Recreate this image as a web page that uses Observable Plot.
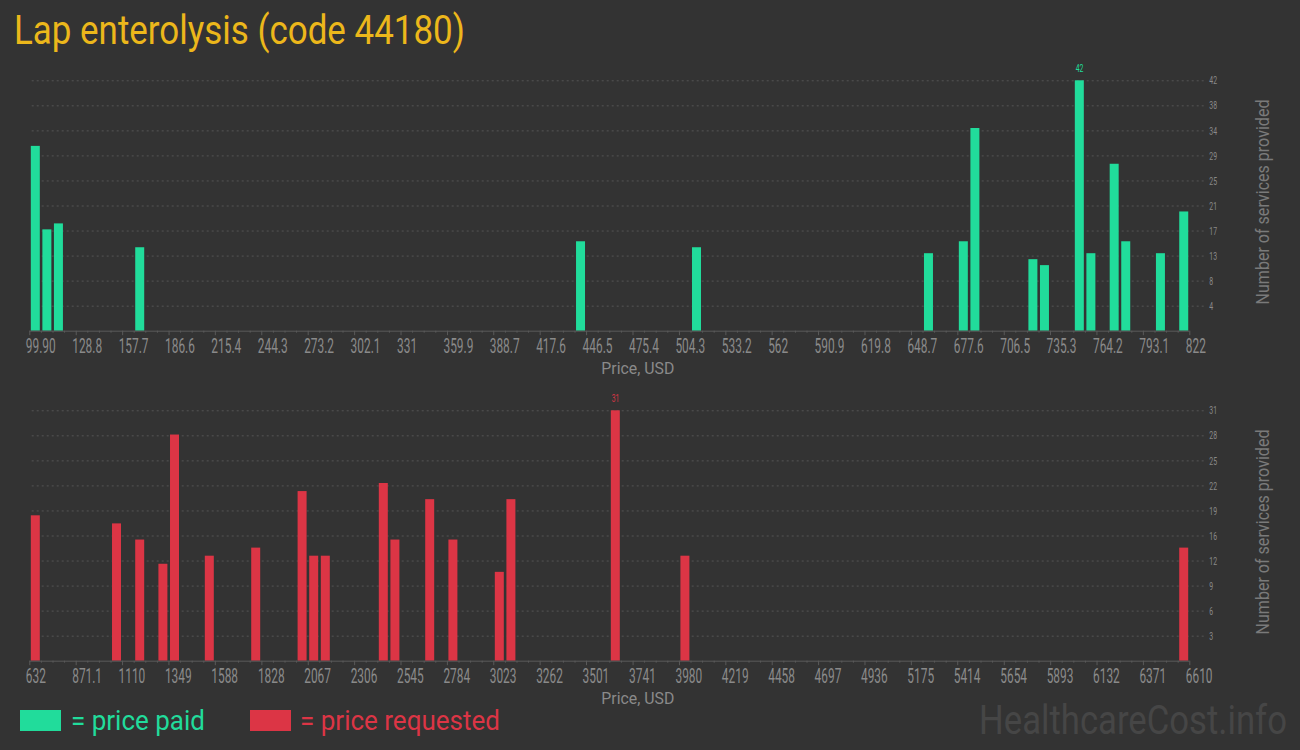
<!DOCTYPE html>
<html>
<head>
<meta charset="utf-8">
<script src="https://cdn.jsdelivr.net/npm/d3@7"></script>
<script src="https://cdn.jsdelivr.net/npm/@observablehq/plot@0.6"></script>
<style>
  html, body { margin: 0; padding: 0; background: #333333; }
  #root { position: relative; width: 1300px; height: 750px; background: #333333; overflow: hidden; font-family: Roboto, sans-serif; }
  #root > svg { position: absolute; left: 0; }
</style>
</head>
<body>
<div id="root"></div>
<script>
// ---------- data ----------
const chartTitle = "Lap enterolysis (code 44180)";
const xTitle = "Price, USD";
const yTitle = "Number of services provided";
const legendPaid = "= price paid";
const legendRequested = "= price requested";
const watermark = "HealthcareCost.info";

// price paid histogram (bin start price, number of services)
const paidPrices = [99.9, 107.1, 114.3, 164.9, 439.3, 511.5, 655.9, 677.6, 684.8, 720.9, 728.1, 749.8, 757.0, 771.5, 778.7, 800.3, 814.8];
const paidCounts = [31, 17, 18, 14, 15, 14, 13, 15, 34, 12, 11, 42, 13, 28, 15, 13, 20];

// price requested histogram
const requestedPrices = [632.0, 1050.5, 1170.0, 1289.6, 1349.4, 1528.7, 1767.8, 2006.9, 2066.7, 2126.5, 2425.4, 2485.2, 2664.5, 2784.1, 3023.2, 3083.0, 3621.0, 3979.7, 6550.2];
const requestedCounts = [18, 17, 15, 12, 28, 13, 14, 21, 13, 13, 22, 15, 20, 15, 11, 20, 31, 13, 14];

// axis ticks
const paidXTickLabels = ["99.90", "128.8", "157.7", "186.6", "215.4", "244.3", "273.2", "302.1", "331", "359.9", "388.7", "417.6", "446.5", "475.4", "504.3", "533.2", "562", "590.9", "619.8", "648.7", "677.6", "706.5", "735.3", "764.2", "793.1", "822"];
const requestedXTickLabels = ["632", "871.1", "1110", "1349", "1588", "1828", "2067", "2306", "2545", "2784", "3023", "3262", "3501", "3741", "3980", "4219", "4458", "4697", "4936", "5175", "5414", "5654", "5893", "6132", "6371", "6610"];
const paidYTicks = [4.2, 8.4, 12.6, 16.8, 21, 25.2, 29.4, 33.6, 37.8, 42];
const paidYTickLabels = ["4", "8", "13", "17", "21", "25", "29", "34", "38", "42"];
const requestedYTicks = [3.1, 6.2, 9.3, 12.4, 15.5, 18.6, 21.7, 24.8, 27.9, 31];
const requestedYTickLabels = ["3", "6", "9", "12", "16", "19", "22", "25", "28", "31"];

// ---------- style ----------
const GREEN = "#21dc9b";
const RED = "#dc3545";
const TITLE_COLOR = "#ecb71b";
const LABEL_COLOR = "#8a8a8a";
const AXIS_COLOR = "#5a5a5a";
const GRID_COLOR = "#555555";

// font sizes (also used to find the text groups afterwards)
const FS_XTICK = 19.5, FS_YTICK = 11.3, FS_MAX = 11.2, FS_XTITLE = 16.4, FS_YTITLE = 18.5;

const root = document.getElementById("root");

function appendScale(t, sx) {
  t.setAttribute("transform", (t.getAttribute("transform") || "") + ` scale(${sx},1)`);
}
function fitWidth(t, target) {
  const w = t.getComputedTextLength();
  if (w > 0) appendScale(t, target / w);
}

function drawChart({prices, counts, color, xLabels, yTicks, yLabels, top}) {
  const xTicks = xLabels.map(Number);
  const x0 = xTicks[0], x1 = xTicks[xTicks.length - 1];
  const nBins = 100;
  const bw = (x1 - x0) / nBins;
  const data = prices.map((p, i) => ({p, c: counts[i]}));
  const ymax = yTicks[yTicks.length - 1];
  const maxC = d3.max(counts);
  const minorTicks = d3.range(nBins + 1).filter(k => k % 4 !== 0).map(k => x0 + k * bw);
  const xlab = new Map(xTicks.map((t, i) => [t, xLabels[i]]));
  const ylab = new Map(yTicks.map((t, i) => [t, yLabels[i]]));

  const svg = Plot.plot({
    width: 1300,
    height: 320,
    marginTop: 20.3,
    marginBottom: 49.3,
    marginLeft: 29.3,
    marginRight: 110.7,
    style: {background: "transparent", color: LABEL_COLOR, fontFamily: "Roboto, sans-serif", overflow: "visible"},
    x: {domain: [x0, x1], axis: null, label: null},
    y: {domain: [0, ymax], axis: null, label: null},
    marks: [
      Plot.ruleY(yTicks, {stroke: GRID_COLOR, strokeDasharray: "2,3", insetLeft: 2.4, insetRight: -16.7}),
      Plot.rectY(data, {x1: "p", x2: d => d.p + bw, y: "c", fill: color, insetLeft: 1.5, insetRight: 1.1}),
      Plot.ruleY([0], {stroke: AXIS_COLOR}),
      Plot.axisX(minorTicks, {tickSize: 2, tickFormat: () => "", stroke: AXIS_COLOR, label: null}),
      Plot.axisX(xTicks, {tickSize: 4.5, tickFormat: () => "", stroke: AXIS_COLOR, label: null}),
      Plot.axisX(xTicks, {tickSize: 0, tickPadding: 7.5, tickFormat: d => xlab.get(d), textAnchor: "start", dx: -4, fontSize: FS_XTICK, fill: LABEL_COLOR, label: null}),
      Plot.axisY(yTicks, {anchor: "right", tickSize: 0, tickPadding: 19.5, tickFormat: d => ylab.get(d), textAnchor: "start", fontSize: FS_YTICK, fill: LABEL_COLOR, label: null}),
      Plot.text(data.filter(d => d.c === maxC), {x: d => d.p + bw / 2, y: "c", text: d => String(d.c), dy: -9, lineAnchor: "bottom", textAnchor: "middle", fontSize: FS_MAX, fill: color}),
      Plot.text([xTitle], {frameAnchor: "bottom", textAnchor: "middle", dx: 28, dy: 42.6, lineAnchor: "bottom", fontSize: FS_XTITLE, fill: LABEL_COLOR}),
      Plot.text([yTitle], {frameAnchor: "right", textAnchor: "middle", lineAnchor: "middle", rotate: -90, dx: 73, dy: -4, fontSize: FS_YTITLE, fill: "#7a7a7a"})
    ]
  });
  svg.style.top = top + "px";
  root.appendChild(svg);

  svg.querySelectorAll("text").forEach(t => {
    const g = t.closest("g[font-size]");
    if (!g) return;
    const fs = +g.getAttribute("font-size");
    if (fs === FS_XTICK || fs === FS_YTICK || fs === FS_MAX) appendScale(t, 0.61);
    else if (fs === FS_XTITLE) fitWidth(t, 73);
    else if (fs === FS_YTITLE) fitWidth(t, 205);
  });
}

drawChart({prices: paidPrices, counts: paidCounts, color: GREEN, xLabels: paidXTickLabels, yTicks: paidYTicks, yLabels: paidYTickLabels, top: 60});
drawChart({prices: requestedPrices, counts: requestedCounts, color: RED, xLabels: requestedXTickLabels, yTicks: requestedYTicks, yLabels: requestedYTickLabels, top: 390});

// ---------- title, legend, watermark ----------
const ns = "http://www.w3.org/2000/svg";
const overlay = document.createElementNS(ns, "svg");
overlay.setAttribute("width", 1300);
overlay.setAttribute("height", 750);
overlay.style.top = "0px";
overlay.style.pointerEvents = "none";
root.appendChild(overlay);

function addText(str, x, y, size, fill, width) {
  const t = document.createElementNS(ns, "text");
  t.setAttribute("font-size", size);
  t.setAttribute("font-family", "Roboto, sans-serif");
  t.setAttribute("fill", fill);
  t.textContent = str;
  overlay.appendChild(t);
  const w = t.getComputedTextLength();
  const sx = w > 0 ? width / w : 1;
  t.setAttribute("transform", `translate(${x},${y}) scale(${sx},1)`);
  return t;
}
function addRect(x, y, w, h, fill) {
  const r = document.createElementNS(ns, "rect");
  r.setAttribute("x", x); r.setAttribute("y", y);
  r.setAttribute("width", w); r.setAttribute("height", h);
  r.setAttribute("fill", fill);
  overlay.appendChild(r);
}

addText(chartTitle, 14, 44.3, 40.8, TITLE_COLOR, 451);
addRect(20, 710, 41, 21, GREEN);
addText(legendPaid, 71, 730, 28, GREEN, 134);
addRect(250, 710, 41, 21, RED);
addText(legendRequested, 300, 730, 28, RED, 200);
addText(watermark, 979, 734, 40.8, "#464646", 308);
</script>
</body>
</html>
